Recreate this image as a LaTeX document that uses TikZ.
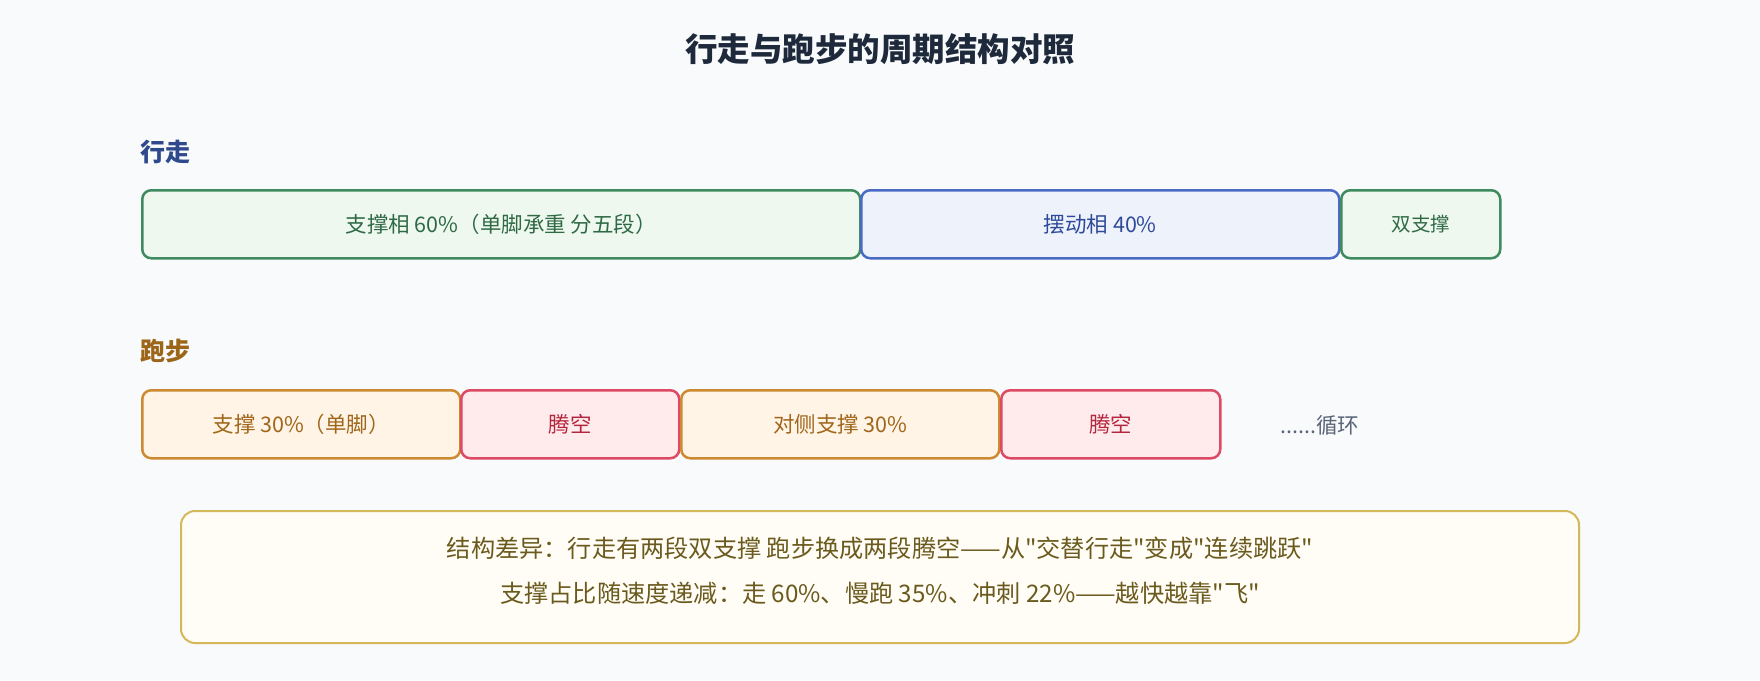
\documentclass[tikz,border=0pt]{standalone}
\usepackage{fontspec}
\setmainfont{Noto Sans CJK SC}
\newfontfamily\cjk{Noto Sans CJK SC}
\definecolor{bg}{HTML}{F8FAFC}
\definecolor{titlec}{HTML}{1E293B}
\definecolor{walkc}{HTML}{2E4A8C}
\definecolor{runc}{HTML}{9C6517}
\definecolor{gfill}{HTML}{EFF8EE}
\definecolor{gline}{HTML}{3F8A5E}
\definecolor{gtext}{HTML}{2E6A45}
\definecolor{bfill}{HTML}{EEF3FB}
\definecolor{bline}{HTML}{4A6BC4}
\definecolor{btext}{HTML}{2F4A9A}
\definecolor{ofill}{HTML}{FFF4E6}
\definecolor{oline}{HTML}{CC8A33}
\definecolor{otext}{HTML}{A0661A}
\definecolor{rfill}{HTML}{FFEBEC}
\definecolor{rline}{HTML}{DC4A64}
\definecolor{rtext}{HTML}{B3263E}
\definecolor{grayt}{HTML}{5B6577}
\definecolor{nfill}{HTML}{FFFDF5}
\definecolor{nline}{HTML}{D4B85A}
\definecolor{ntext}{HTML}{6B5A1E}
\tikzset{
  seg/.style={draw, line width=2.5pt, rounded corners=9pt, inner sep=0pt,
    minimum height=68pt, anchor=north west,
    font=\cjk\fontsize{21.5}{26}\selectfont},
  gseg/.style={seg, draw=gline, fill=gfill, text=gtext},
  bseg/.style={seg, draw=bline, fill=bfill, text=btext},
  oseg/.style={seg, draw=oline, fill=ofill, text=otext},
  rseg/.style={seg, draw=rline, fill=rfill, text=rtext},
  rowlabel/.style={anchor=west, inner sep=0pt, font=\cjk\bfseries\fontsize{25}{30}\selectfont},
  notetext/.style={inner sep=0pt, text=ntext, font=\cjk\fontsize{24.2}{29}\selectfont},
}
\begin{document}
\begin{tikzpicture}[x=1pt,y=-1pt]
\fill[bg] (0,0) rectangle (1760,680);
\useasboundingbox (0,0) rectangle (1760,680);
\node[inner sep=0pt, text=titlec, font=\cjk\bfseries\fontsize{32.5}{38}\selectfont] (title) at (880,49) {行走与跑步的周期结构对照};
\node[rowlabel, text=walkc] (walklabel) at (140,152) {行走};
\node[rowlabel, text=runc] (runlabel) at (140,351) {跑步};
% walking
\node[gseg, minimum width=718pt] (w1) at (141,189) {支撑相 60\%（单脚承重 分五段）};
\node[bseg, minimum width=478pt] (w2) at (860,189) {摆动相 40\%};
\node[gseg, minimum width=159pt, font=\cjk\fontsize{19.5}{24}\selectfont] (w3) at (1340,189) {双支撑};
% running
\node[oseg, minimum width=318pt] (r1) at (141,389) {支撑 30\%（单脚）};
\node[rseg, minimum width=218pt] (r2) at (460,389) {腾空};
\node[oseg, minimum width=318pt] (r3) at (680,389) {对侧支撑 30\%};
\node[rseg, minimum width=219pt] (r4) at (1000,389) {腾空};
\node[inner sep=0pt, text=grayt, font=\cjk\fontsize{21.5}{26}\selectfont] (loop) at (1320,425) {......循环};
% note
\node[draw=nline, fill=nfill, line width=2pt, rounded corners=14pt, minimum width=1398pt, minimum height=132pt, anchor=north west] (note) at (180,510) {};
\node[notetext] (n1) at (880,548) {结构差异：行走有两段双支撑 跑步换成两段腾空——从"交替行走"变成"连续跳跃"};
\node[notetext] (n2) at (880,593) {支撑占比随速度递减：走 60\%、慢跑 35\%、冲刺 22\%——越快越靠"飞"};
\end{tikzpicture}
\end{document}
